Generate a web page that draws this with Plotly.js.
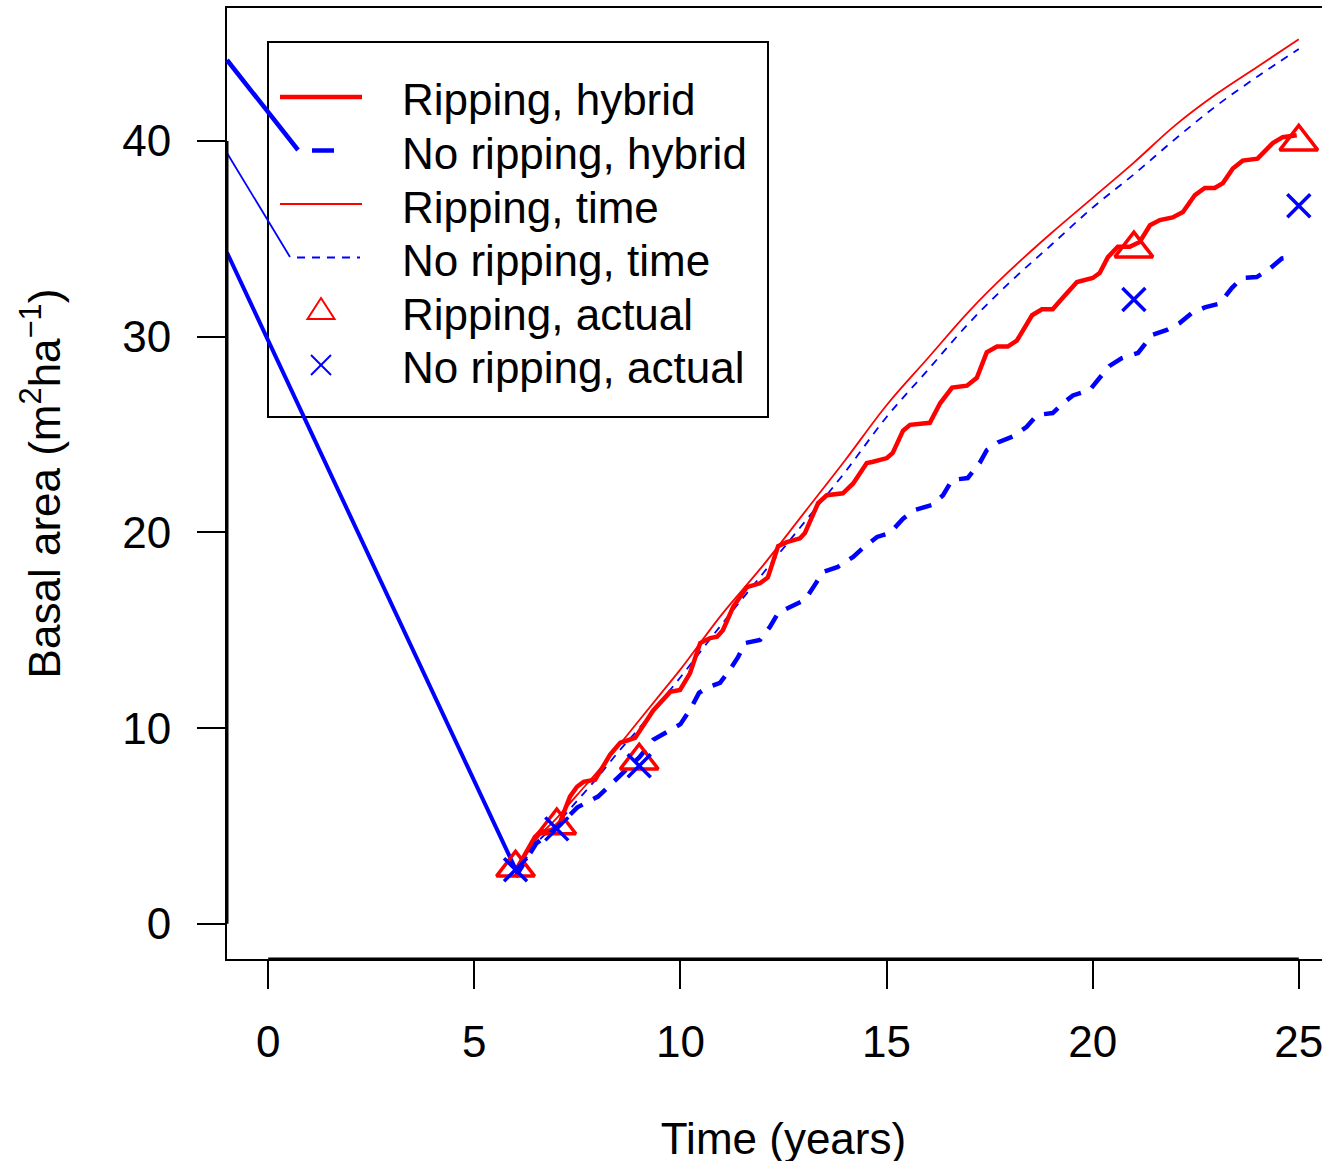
<!DOCTYPE html>
<html>
<head>
<meta charset="utf-8">
<script src="https://cdn.plot.ly/plotly-3.0.1.min.js"></script>
<style>
  html, body { margin: 0; padding: 0; overflow: hidden; background: #fff; }
  #chart { width: 1360px; height: 1200px; }
</style>
</head>
<body>
<div id="chart"></div>
<script>
// ---------- data ----------
const ripTimeX = [6, 6.5, 7, 7.5, 8, 8.5, 9, 9.5, 10, 11, 12, 13, 14, 15, 16, 17, 18, 19, 20, 21, 22, 23, 24, 25];
const ripTimeY = [2.6, 4.3, 5.4, 6.6, 7.8, 9.1, 10.4, 11.7, 13.0, 15.8, 18.3, 21.0, 23.7, 26.5, 28.9, 31.3, 33.4, 35.3, 37.1, 38.9, 40.8, 42.4, 43.8, 45.2];

const noRipTimeX = [6, 6.5, 7, 7.5, 8, 8.5, 9, 9.5, 10, 11, 12, 13, 14, 15, 16, 17, 18, 19, 20, 21, 22, 23, 24, 25];
const noRipTimeY = [2.4, 4.1, 5.1, 6.3, 7.5, 8.8, 10.0, 11.3, 12.6, 15.3, 17.9, 20.5, 23.1, 25.9, 28.3, 30.7, 32.8, 34.7, 36.6, 38.3, 40.1, 41.8, 43.3, 44.7];

const ripHybridX = [6.0, 6.47, 6.6, 6.89, 7.08, 7.32, 7.49, 7.65, 7.93, 8.29, 8.54, 8.9, 9.34, 9.75, 9.99, 10.23, 10.48, 10.72, 10.89, 11.03, 11.28, 11.61, 11.93, 12.12, 12.37, 12.58, 12.9, 13.02, 13.34, 13.55, 13.94, 14.19, 14.52, 14.65, 15.01, 15.15, 15.4, 15.57, 16.05, 16.3, 16.59, 16.95, 17.19, 17.43, 17.68, 17.94, 18.16, 18.53, 18.77, 19.03, 19.28, 19.62, 20.0, 20.17, 20.37, 20.61, 20.9, 21.14, 21.39, 21.63, 21.94, 22.19, 22.48, 22.72, 22.96, 23.16, 23.4, 23.64, 24.0, 24.13, 24.37, 24.61, 24.95];
const ripHybridY = [2.7, 4.44, 4.7, 4.8, 5.2, 6.5, 7.0, 7.25, 7.36, 8.63, 9.25, 9.5, 10.9, 11.85, 11.95, 12.8, 14.35, 14.6, 14.67, 15.0, 16.2, 17.2, 17.4, 17.7, 19.3, 19.5, 19.7, 19.97, 21.5, 21.9, 22.0, 22.5, 23.55, 23.6, 23.8, 24.06, 25.2, 25.5, 25.6, 26.6, 27.4, 27.5, 27.9, 29.2, 29.5, 29.5, 29.8, 31.1, 31.4, 31.4, 32.0, 32.8, 33.0, 33.26, 34.07, 34.6, 34.6, 34.84, 35.7, 35.96, 36.1, 36.37, 37.24, 37.6, 37.6, 37.85, 38.6, 39.0, 39.1, 39.4, 39.9, 40.2, 40.3];

const noRipHybridX = [6.0, 6.5, 7.0, 7.5, 8.0, 8.25, 8.5, 9.0, 9.34, 9.67, 10.0, 10.25, 10.45, 10.64, 10.96, 11.2, 11.4, 11.57, 11.93, 12.17, 12.37, 12.66, 13.02, 13.26, 13.46, 13.82, 14.19, 14.43, 14.77, 15.08, 15.4, 15.69, 16.1, 16.37, 16.59, 16.97, 17.26, 17.43, 17.7, 18.06, 18.4, 18.65, 19.03, 19.28, 19.52, 19.93, 20.17, 20.4, 20.7, 21.1, 21.44, 21.8, 22.11, 22.4, 22.72, 23.08, 23.38, 23.62, 23.98, 24.25, 24.59, 24.9];
const noRipHybridY = [2.4, 4.1, 4.9, 5.95, 6.5, 7.0, 7.5, 8.5, 9.4, 9.8, 10.2, 11.0, 11.8, 12.06, 12.31, 12.98, 13.64, 14.35, 14.5, 15.17, 15.89, 16.19, 16.55, 17.32, 17.98, 18.24, 18.75, 19.21, 19.77, 19.97, 20.7, 21.15, 21.4, 21.9, 22.68, 22.78, 23.55, 24.2, 24.6, 24.9, 25.4, 26.0, 26.1, 26.6, 27.0, 27.28, 27.9, 28.5, 28.9, 29.17, 30.09, 30.35, 30.7, 31.2, 31.5, 31.7, 32.5, 33.0, 33.05, 33.4, 34.0, 34.1];

// straight connector drawn from the left margin down to the first measured point
const connectorX = [-1.0, 6.02];
const connectorY = [34.3, 2.7];

const actualX = [6, 7, 9, 21, 25];
const ripActualY = [2.86, 5.02, 8.33, 34.5, 39.96];
const noRipActualY = [2.76, 4.85, 8.07, 31.9, 36.7];

const xTicks = [0, 5, 10, 15, 20, 25];
const yTicks = [0, 10, 20, 30, 40];

const legendLabels = ["Ripping, hybrid", "No ripping, hybrid", "Ripping, time", "No ripping, time", "Ripping, actual", "No ripping, actual"];

// ---------- layout helpers (pixel -> paper) ----------
const W = 1360, H = 1200;
const ML = 227, MR = 20, MT = 8, MB = 241;
const PW = W - ML - MR, PH = H - MT - MB;
const px = v => (v - ML) / PW;
const py = v => (H - MB - v) / PH;

const FONT = "Liberation Sans, Arial, Helvetica, sans-serif";
const FS = 44;
const RED = "#ff0000", BLUE = "#0000ff";

const traces = [
  { x: ripTimeX, y: ripTimeY, mode: "lines", line: { color: RED, width: 1.8, shape: "spline" }, showlegend: false, hoverinfo: "skip" },
  { x: noRipTimeX, y: noRipTimeY, mode: "lines", line: { color: BLUE, width: 1.8, dash: "8px,7px", shape: "spline" }, showlegend: false, hoverinfo: "skip" },
  { x: ripHybridX, y: ripHybridY, mode: "lines", line: { color: RED, width: 4.5 }, showlegend: false, hoverinfo: "skip" },
  { x: noRipHybridX, y: noRipHybridY, mode: "lines", line: { color: BLUE, width: 4.5, dash: "16px,12px" }, showlegend: false, hoverinfo: "skip" },
  { x: connectorX, y: connectorY, mode: "lines", line: { color: BLUE, width: 4 }, showlegend: false, hoverinfo: "skip" },
  { x: actualX, y: ripActualY, mode: "markers", marker: { symbol: "triangle-up-open", size: 33, color: RED, line: { color: RED, width: 3.5 } }, showlegend: false, hoverinfo: "skip", cliponaxis: false },
  { x: actualX, y: noRipActualY, mode: "markers", marker: { symbol: "x-thin-open", size: 23, color: BLUE, line: { color: BLUE, width: 3.5 } }, showlegend: false, hoverinfo: "skip", cliponaxis: false }
];

// legend (drawn as shapes + annotations, R-style)
const rowY = [100, 153.5, 207, 260.5, 314, 367.5];
const shapes = [
  { type: "rect", xref: "paper", yref: "paper", x0: px(268), x1: px(768), y0: py(42), y1: py(417), line: { color: "#000", width: 2 }, fillcolor: "#fff", layer: "below" },
  { type: "line", xref: "paper", yref: "paper", x0: px(280), x1: px(362), y0: py(97), y1: py(97), line: { color: RED, width: 4.5 } },
  { type: "line", xref: "paper", yref: "paper", x0: px(312), x1: px(334), y0: py(150.5), y1: py(150.5), line: { color: BLUE, width: 4.5 } },
  { type: "line", xref: "paper", yref: "paper", x0: px(280), x1: px(362), y0: py(204), y1: py(204), line: { color: RED, width: 1.8 } },
  { type: "line", xref: "paper", yref: "paper", x0: px(297), x1: px(360), y0: py(257.5), y1: py(257.5), line: { color: BLUE, width: 1.8, dash: "8px,7px" } },
  { type: "path", xref: "paper", yref: "paper", path: `M${px(321)},${py(298)} L${px(334.5)},${py(319)} L${px(307.5)},${py(319)} Z`, line: { color: RED, width: 2 } },
  { type: "line", xref: "paper", yref: "paper", x0: px(311), x1: px(331), y0: py(355), y1: py(375), line: { color: BLUE, width: 2 } },
  { type: "line", xref: "paper", yref: "paper", x0: px(311), x1: px(331), y0: py(375), y1: py(355), line: { color: BLUE, width: 2 } },
  // stray blue strokes crossing the legend in the original
  { type: "line", xref: "paper", yref: "paper", x0: px(227), x1: px(298), y0: py(60), y1: py(150), line: { color: BLUE, width: 4.5 } },
  { type: "line", xref: "paper", yref: "paper", x0: px(227), x1: px(290), y0: py(153), y1: py(257), line: { color: BLUE, width: 1.8 } },
  // R-style axis lines spanning the tick range (slightly heavier than the box)
  { type: "line", xref: "x", yref: "paper", x0: xTicks[0], x1: xTicks[xTicks.length - 1], y0: 0, y1: 0, line: { color: "#000", width: 3 } },
  { type: "line", xref: "paper", yref: "y", x0: 0, x1: 0, y0: yTicks[0], y1: yTicks[yTicks.length - 1], line: { color: "#000", width: 3 } }
];

const annotations = legendLabels.map((t, i) => ({
  text: t, xref: "paper", yref: "paper", x: px(400), y: py(rowY[i]),
  xanchor: "left", yanchor: "middle", showarrow: false,
  font: { family: FONT, size: FS, color: "#000" }
}));

const axisCommon = {
  showgrid: false, zeroline: false, showline: true, mirror: true,
  linecolor: "#000", linewidth: 2,
  ticks: "outside", ticklen: 28, tickwidth: 2, tickcolor: "#000",
  tickfont: { family: FONT, size: FS, color: "#000" }
};

const layout = {
  width: W, height: H,
  margin: { l: ML, r: MR, t: MT, b: MB },
  paper_bgcolor: "#fff", plot_bgcolor: "#fff",
  showlegend: false,
  font: { family: FONT, color: "#000" },
  xaxis: Object.assign({}, axisCommon, {
    range: [-1, 26], tickmode: "array", tickvals: xTicks, ticktext: xTicks.map(String),
    ticklabelstandoff: 15,
    title: { text: "Time (years)", font: { family: FONT, size: FS, color: "#000" }, standoff: 58 }
  }),
  yaxis: Object.assign({}, axisCommon, {
    range: [-1.8, 46.8], tickmode: "array", tickvals: yTicks, ticktext: yTicks.map(String),
    ticklabelstandoff: 17,
    title: { text: "Basal area (m<sup>2</sup>ha<sup>−1</sup>)", font: { family: FONT, size: FS, color: "#000" }, standoff: 48 }
  }),
  shapes: shapes,
  annotations: annotations
};

Plotly.newPlot("chart", traces, layout, { staticPlot: true, displayModeBar: false });
</script>
</body>
</html>
